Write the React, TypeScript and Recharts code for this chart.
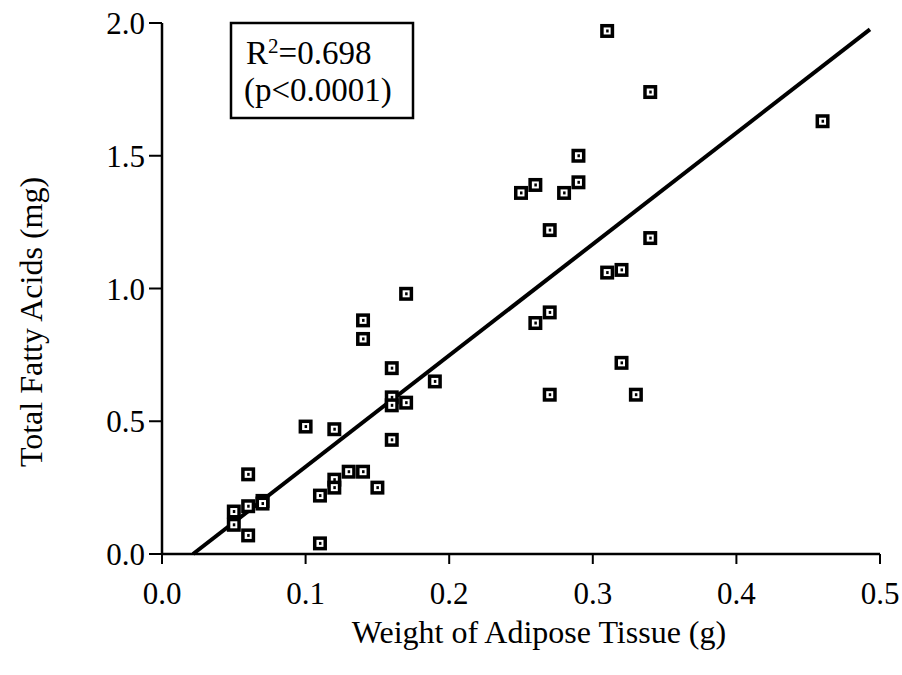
import React from 'react';
import { ScatterChart, Scatter, XAxis, YAxis, ReferenceLine } from 'recharts';

// Weight of adipose tissue (g)
const weightG = [
  0.05, 0.05, 0.06, 0.06, 0.06, 0.07, 0.07,
  0.10, 0.11, 0.11, 0.12, 0.12, 0.12, 0.13, 0.14, 0.14, 0.14, 0.15,
  0.16, 0.16, 0.16, 0.16, 0.17, 0.17, 0.19,
  0.25, 0.26, 0.26, 0.27, 0.27, 0.27, 0.28, 0.29, 0.29,
  0.31, 0.31, 0.32, 0.32, 0.33, 0.34, 0.34, 0.46,
];
// Total fatty acids (mg)
const fattyAcidsMg = [
  0.16, 0.11, 0.30, 0.18, 0.07, 0.20, 0.19,
  0.48, 0.22, 0.04, 0.47, 0.28, 0.25, 0.31, 0.31, 0.88, 0.81, 0.25,
  0.70, 0.59, 0.56, 0.43, 0.98, 0.57, 0.65,
  1.36, 1.39, 0.87, 1.22, 0.91, 0.60, 1.36, 1.50, 1.40,
  1.97, 1.06, 1.07, 0.72, 0.60, 1.74, 1.19, 1.63,
];
// Regression line endpoints
const fitX = [0.0216, 0.493];
const fitY = [0, 1.976];

const xTicks = [0, 0.1, 0.2, 0.3, 0.4, 0.5];
const yTicks = [0, 0.5, 1.0, 1.5, 2.0];

const xTitle = 'Weight of Adipose Tissue (g)';
const yTitle = 'Total Fatty Acids (mg)';
const rSquaredText = '=0.698';
const pText = '(p<0.0001)';

const data = weightG.map((x, i) => ({ x, y: fattyAcidsMg[i] }));

const FONT = '"Liberation Serif", "Times New Roman", serif';

const Marker = (props: any) => {
  const { cx, cy } = props;
  if (cx == null || cy == null) return null;
  return (
    <g>
      <rect x={cx - 7} y={cy - 7} width={14} height={14} fill="#000" />
      <rect x={cx - 3.5} y={cy - 3.5} width={7} height={7} fill="#fff" />
      <rect x={cx - 1} y={cy - 1.5} width={2.5} height={3} fill="#000" />
    </g>
  );
};

export default function App() {
  return (
    <div style={{ position: 'absolute', left: 0, top: 0, width: 902, height: 675, background: '#fff' }}>
      <ScatterChart
        width={902}
        height={675}
        margin={{ top: 23, right: 22, left: 0, bottom: 0 }}
      >
        <XAxis
          type="number"
          dataKey="x"
          domain={[0, 0.5]}
          ticks={xTicks}
          tickFormatter={(v: number) => v.toFixed(1)}
          height={121}
          tickSize={10}
          tickMargin={18}
          axisLine={{ stroke: '#000', strokeWidth: 2.5 }}
          tickLine={{ stroke: '#000', strokeWidth: 2 }}
          tick={{ fill: '#000', fontSize: 31, fontFamily: FONT }}
        />
        <YAxis
          type="number"
          dataKey="y"
          domain={[0, 2]}
          ticks={yTicks}
          tickFormatter={(v: number) => v.toFixed(1)}
          width={162}
          tickSize={13}
          tickMargin={4}
          axisLine={{ stroke: '#000', strokeWidth: 2.5 }}
          tickLine={{ stroke: '#000', strokeWidth: 2 }}
          tick={{ fill: '#000', fontSize: 31, fontFamily: FONT }}
        />
        <ReferenceLine
          segment={[
            { x: fitX[0], y: fitY[0] },
            { x: fitX[1], y: fitY[1] },
          ]}
          stroke="#000"
          strokeWidth={4}
        />
        <Scatter data={data} shape={Marker} isAnimationActive={false} />
      </ScatterChart>
      <svg
        width={902}
        height={675}
        style={{ position: 'absolute', left: 0, top: 0, pointerEvents: 'none' }}
      >
        <rect x={231} y={23} width={182} height={95} fill="#fff" stroke="#000" strokeWidth={2.5} />
        <text x={246} y={64} fontSize={33} fontFamily={FONT} fill="#000">
          R
          <tspan fontSize={21} dy={-11}>2</tspan>
          <tspan dy={11}>{rSquaredText}</tspan>
        </text>
        <text x={244} y={101} fontSize={33} fontFamily={FONT} fill="#000">
          {pText}
        </text>
        <text x={539} y={643} fontSize={32} fontFamily={FONT} fill="#000" textAnchor="middle">
          {xTitle}
        </text>
        <text
          x={42}
          y={322}
          fontSize={32}
          fontFamily={FONT}
          fill="#000"
          textAnchor="middle"
          transform="rotate(-90, 42, 322)"
        >
          {yTitle}
        </text>
      </svg>
    </div>
  );
}
